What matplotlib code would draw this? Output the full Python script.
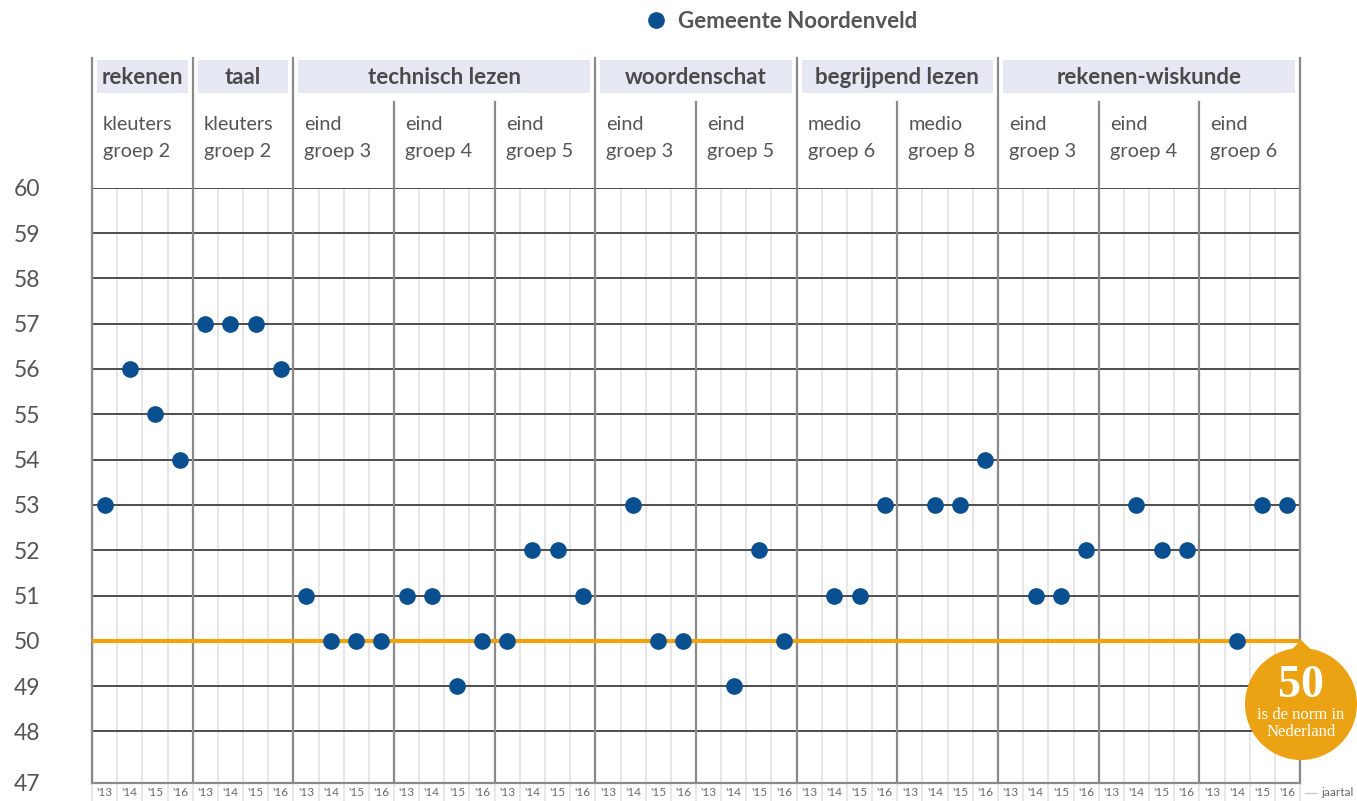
import numpy as np
import matplotlib
matplotlib.use("Agg")
import matplotlib.pyplot as plt
from matplotlib import transforms, patches
from matplotlib.lines import Line2D

# ---------------- data ----------------
years = ["'13", "'14", "'15", "'16"]
categories = ["rekenen", "taal", "technisch lezen", "woordenschat",
              "begrijpend lezen", "rekenen-wiskunde"]
category_sizes = [1, 1, 3, 2, 2, 3]          # number of sub-groups per category
sub_line1 = ["kleuters", "kleuters", "eind", "eind", "eind", "eind", "eind",
             "medio", "medio", "eind", "eind", "eind"]
sub_line2 = ["groep 2", "groep 2", "groep 3", "groep 4", "groep 5", "groep 3",
             "groep 5", "groep 6", "groep 8", "groep 3", "groep 4", "groep 6"]
nan = np.nan
scores = [53, 56, 55, 54,
          57, 57, 57, 56,
          51, 50, 50, 50,
          51, 51, 49, 50,
          50, 52, 52, 51,
          nan, 53, 50, 50,
          nan, 49, 52, 50,
          nan, 51, 51, 53,
          nan, 53, 53, 54,
          nan, 51, 51, 52,
          nan, 53, 52, 52,
          nan, 50, 53, 53]
norm = 50
y_ticks = list(range(48, 61))
series_name = "Gemeente Noordenveld"

# ---------------- style ----------------
FONT = "Lato"
BLUE = "#0a4f8f"
ORANGE = "#f0a30a"
BADGE = "#eca313"
TXT = "#555555"

W, H = 1357, 801
fig = plt.figure(figsize=(W / 100, H / 100), dpi=100)
ax_top_px, ax_bot_px = 187.7, 782.7
ax = fig.add_axes([92 / W, 1 - ax_bot_px / H, (1300 - 92) / W, (ax_bot_px - ax_top_px) / H])

n_groups = len(sub_line1)
n_slots = n_groups * len(years)
ymin = 46.87
ax.set_xlim(0, n_slots)
ax.set_ylim(ymin, 60)

def fy(py):
    return 1 - py / H

trans = transforms.blended_transform_factory(ax.transData, fig.transFigure)

# category boundaries
cat_bounds = [0]
for s in category_sizes:
    cat_bounds.append(cat_bounds[-1] + s * len(years))
group_bounds = [g * len(years) for g in range(n_groups + 1)]
inner_bounds = [b for b in group_bounds if b not in cat_bounds]

# light slot lines
for k in range(1, n_slots):
    if k not in group_bounds:
        ax.axvline(k, color="#e3e3e3", lw=1.2, zorder=1)
# light lines below axis
for k in range(0, n_slots + 1):
    ax.plot([k, k], [fy(ax_bot_px), 0], transform=trans, color="#e3e3e3",
            lw=1.2, clip_on=False, zorder=1)

# horizontal grid
for yv in y_ticks:
    ax.axhline(yv, color="#4d4d4d", lw=1.4, zorder=2)

# group dividers
for b in group_bounds:
    ax.axvline(b, color="#8a8a8a", lw=1.6, zorder=3)
for b in cat_bounds:
    ax.plot([b, b], [fy(58), fy(ax_top_px)], transform=trans, color="#8a8a8a",
            lw=1.6, clip_on=False, zorder=3)
for b in inner_bounds:
    ax.plot([b, b], [fy(102), fy(ax_top_px)], transform=trans, color="#8a8a8a",
            lw=1.6, clip_on=False, zorder=3)

# category header boxes
for i, cat in enumerate(categories):
    s, e = cat_bounds[i], cat_bounds[i + 1]
    rect = patches.Rectangle((s + 0.2, fy(93)), (e - s) - 0.4, fy(60) - fy(93),
                             transform=trans, facecolor="#e6e9f4", edgecolor="none",
                             clip_on=False, zorder=2)
    ax.add_patch(rect)
    ax.text((s + e) / 2, fy(77), cat, transform=trans, ha="center", va="center",
            fontsize=16, fontweight="bold", family=FONT, color="#4a4a4a")

# sub-group labels
for g in range(n_groups):
    x0 = g * len(years) + 0.44
    ax.text(x0, fy(124), sub_line1[g], transform=trans, ha="left", va="center",
            fontsize=14.3, family=FONT, color="#555555")
    ax.text(x0, fy(151), sub_line2[g], transform=trans, ha="left", va="center",
            fontsize=14.3, family=FONT, color="#555555")

# norm line
ax.axhline(norm, color=ORANGE, lw=3.0, zorder=4)

# points
xs = np.arange(n_slots) + 0.5
ax.plot(xs, scores, "o", ms=11, color=BLUE, zorder=6, clip_on=False, label=series_name)

# axes styling
ax.spines["top"].set_visible(False)
for side in ["left", "right", "bottom"]:
    ax.spines[side].set_color("#8a8a8a")
    ax.spines[side].set_linewidth(1.6)
ax.set_yticks([ymin] + y_ticks)
ax.set_yticklabels(["47"] + [str(v) for v in y_ticks])
ax.set_xticks(xs)
ax.set_xticklabels(years * n_groups)
ax.tick_params(axis="y", length=0, pad=37, labelsize=16.5, labelcolor=TXT)
ax.tick_params(axis="x", length=0, pad=3, labelsize=8.5, labelcolor="#6a6a6a")
for lab in ax.get_yticklabels() + ax.get_xticklabels():
    lab.set_family(FONT)

# legend
handle = Line2D([], [], marker="o", ls="", color=BLUE, ms=11)
fig.legend(handles=[handle], labels=[series_name], loc="center",
           bbox_to_anchor=(780 / W, 1 - 21 / H), frameon=False,
           prop=dict(family=FONT, weight="bold", size=16), labelcolor="#555555",
           handletextpad=0.4, handlelength=1.2)

# badge
inch = fig.dpi_scale_trans
def pi(px, py):
    return (px / 100, (H - py) / 100)
circ = patches.Circle(pi(1301, 704), 0.56, transform=inch, facecolor=BADGE,
                      edgecolor="none", zorder=10)
fig.patches.append(circ)
tri = patches.Polygon([pi(1301, 640), pi(1280, 662), pi(1324, 662)], closed=True,
                      transform=inch, facecolor=BADGE, edgecolor="none", zorder=10)
fig.patches.append(tri)
fig.text(*pi(1301, 686), str(norm), transform=inch, ha="center", va="center",
         fontsize=33, fontweight="bold", family="Liberation Serif", color="white", zorder=11)
fig.text(*pi(1301, 715), "is de norm in", transform=inch, ha="center", va="center",
         fontsize=12, family="Liberation Serif", color="white", zorder=11)
fig.text(*pi(1301, 732), "Nederland", transform=inch, ha="center", va="center",
         fontsize=12, family="Liberation Serif", color="white", zorder=11)

# jaartal
fig.add_artist(Line2D([1305 / 100, 1317 / 100], [(H - 793) / 100] * 2, transform=inch,
                      color="#cccccc", lw=1))
fig.text(*pi(1321, 793), "jaartal", transform=inch, ha="left", va="center",
         fontsize=8.5, family=FONT, color="#6a6a6a")

fig.savefig("out.png", dpi=100)
